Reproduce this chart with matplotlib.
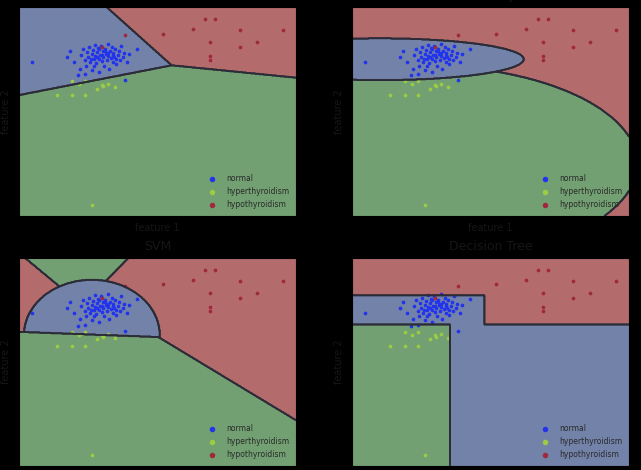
"""Decision regions of four classifiers on two thyroid features."""

import matplotlib
matplotlib.use("Agg")
import matplotlib.pyplot as plt
import numpy as np

# Scaled feature values (0..1) for the three classes
NORMAL_X = [0.046, 0.172, 0.185, 0.200, 0.214, 0.220, 0.225, 0.232, 0.238, 0.242,
            0.246, 0.250, 0.254, 0.258, 0.262, 0.265, 0.268, 0.270, 0.273, 0.276,
            0.279, 0.282, 0.285, 0.288, 0.290, 0.293, 0.296, 0.299, 0.302, 0.305,
            0.308, 0.311, 0.314, 0.317, 0.320, 0.323, 0.326, 0.329, 0.332, 0.335,
            0.338, 0.341, 0.344, 0.348, 0.352, 0.356, 0.360, 0.365, 0.370, 0.374,
            0.378, 0.383, 0.390, 0.398, 0.425, 0.280, 0.300, 0.320, 0.260, 0.340,
            0.310, 0.290, 0.270, 0.350, 0.240]
NORMAL_Y = [0.737, 0.761, 0.790, 0.735, 0.674, 0.705, 0.770, 0.800, 0.745, 0.720,
            0.785, 0.760, 0.810, 0.735, 0.775, 0.700, 0.795, 0.750, 0.820, 0.765,
            0.730, 0.785, 0.805, 0.750, 0.690, 0.770, 0.815, 0.740, 0.790, 0.760,
            0.720, 0.800, 0.775, 0.745, 0.825, 0.765, 0.705, 0.790, 0.755, 0.810,
            0.735, 0.780, 0.760, 0.800, 0.725, 0.770, 0.790, 0.745, 0.815, 0.760,
            0.780, 0.650, 0.735, 0.775, 0.801, 0.760, 0.770, 0.780, 0.750, 0.770,
            0.790, 0.800, 0.720, 0.750, 0.680]

HYPER_X = [0.136, 0.190, 0.238, 0.280, 0.304, 0.322, 0.192, 0.240, 0.300, 0.215,
           0.345, 0.262]
HYPER_Y = [0.578, 0.578, 0.578, 0.610, 0.620, 0.634, 0.644, 0.644, 0.628, 0.630,
           0.615, 0.053]

HYPO_X = [0.671, 0.708, 0.629, 0.798, 0.954, 0.521, 0.690, 0.858, 0.798, 0.690,
          0.690, 0.384, 0.298]
HYPO_Y = [0.944, 0.944, 0.896, 0.889, 0.889, 0.873, 0.833, 0.833, 0.809, 0.764,
          0.745, 0.865, 0.810]

CLASS_NAMES = ["normal", "hyperthyroidism", "hypothyroidism"]
TITLES = ["Linear SVM", "Naive Bayes", "SVM", "Decision Tree"]

REGION_COLORS = ["#7282a8", "#72a072", "#b36b6b"]
POINT_COLORS = ["#2233ee", "#9ccc44", "#a0283c"]
LINE_COLOR = "#2c2c38"
TEXT_COLOR = "#161616"


def linear_regions(x, y):
    # three half-planes meeting at one point
    jx, jy = 0.551, 0.721
    ang = np.degrees(np.arctan2(y - jy, x - jx)) % 360
    z = np.ones_like(x, dtype=int)
    z[(ang >= 130.1) & (ang < 194.5)] = 0
    z[(ang >= 352.5) | (ang < 130.1)] = 2
    return z


def gaussian_regions(x, y):
    z = np.full_like(x, 2, dtype=int)
    green = ((x - 0.25) / 0.78) ** 2 + ((y - 0.25) / 0.47) ** 2 < 1
    blue = ((x - 0.10) / 0.52) ** 2 + ((y - 0.75) / 0.10) ** 2 < 1
    z[green] = 1
    z[blue] = 0
    return z


def rbf_regions(x, y):
    z = np.full_like(x, 2, dtype=int)
    lower = np.where(x < 0.503,
                     0.645 - 0.05 * x,
                     0.62 - 0.805 * (x - 0.503))
    upper = y > lower
    yt = 1 - y
    left = 0.022 + yt * 0.906
    right = 0.395 - yt * 0.738
    wedge = upper & (x > left) & (x < right) & (yt < 0.227)
    blob = upper & (((x - 0.263) / 0.245) ** 2 + ((y - 0.63) / 0.265) ** 2 < 1)
    z[~upper] = 1
    z[wedge] = 1
    z[blob] = 0
    return z


def tree_regions(x, y):
    z = np.full_like(x, 2, dtype=int)
    z[(x < 0.477) & (y < 0.821) & (y >= 0.68)] = 0
    z[(x >= 0.354) & (y < 0.68)] = 0
    z[(x < 0.354) & (y < 0.68)] = 1
    return z


REGION_FUNCS = [linear_regions, gaussian_regions, rbf_regions, tree_regions]

fig = plt.figure(figsize=(6.41, 4.70), dpi=100, facecolor="black")
positions = [
    [0.0296, 0.5404, 0.4322, 0.4447],
    [0.5491, 0.5404, 0.4322, 0.4447],
    [0.0296, 0.0085, 0.4322, 0.4426],
    [0.5491, 0.0085, 0.4322, 0.4426],
]

gx, gy = np.meshgrid(np.linspace(0, 1, 500), np.linspace(0, 1, 500))

for pos, func, title in zip(positions, REGION_FUNCS, TITLES):
    ax = fig.add_axes(pos)
    z = func(gx, gy)
    ax.contourf(gx, gy, z, levels=[-0.5, 0.5, 1.5, 2.5], colors=REGION_COLORS)
    for k in range(3):
        ax.contour(gx, gy, (z == k).astype(float), levels=[0.5],
                   colors=LINE_COLOR, linewidths=1.3)

    for xs, ys, color, name in zip([NORMAL_X, HYPER_X, HYPO_X],
                                   [NORMAL_Y, HYPER_Y, HYPO_Y],
                                   POINT_COLORS, CLASS_NAMES):
        ax.scatter(xs, ys, s=7, color=color, label=name, linewidths=0)

    ax.set_xlim(0, 1)
    ax.set_ylim(0, 1)
    ax.set_xticks([])
    ax.set_yticks([])
    for spine in ax.spines.values():
        spine.set_color("black")
    ax.set_title(title, fontsize=9, color=TEXT_COLOR)
    ax.set_xlabel("feature 1", fontsize=7, color=TEXT_COLOR, labelpad=5)
    ax.set_ylabel("feature 2", fontsize=7, color=TEXT_COLOR, labelpad=6)
    leg = ax.legend(loc="lower right", fontsize=5.5, frameon=False,
                    markerscale=1.5, handletextpad=0.8)
    for text in leg.get_texts():
        text.set_color("#2a2a2a")

fig.savefig("out.png", dpi=100, facecolor="black")
